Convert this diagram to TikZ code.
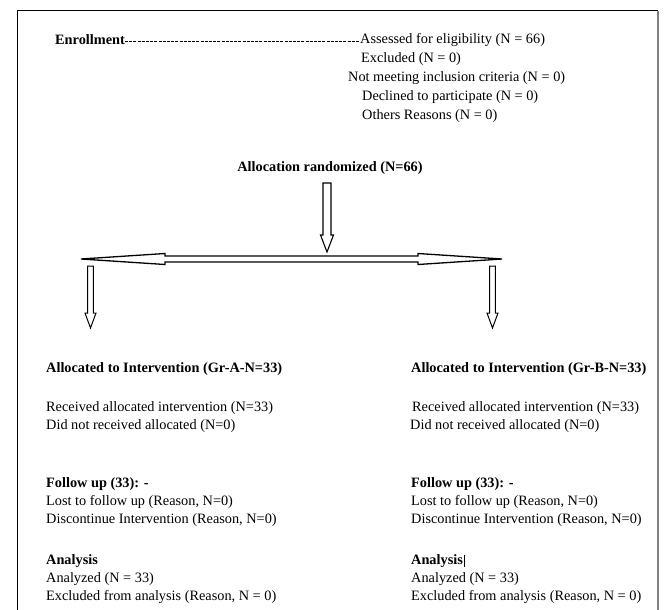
\documentclass[tikz,border=0pt]{standalone}
\usepackage{fontspec}
\setmainfont{Liberation Serif}
\usetikzlibrary{calc}
\begin{document}
\begin{tikzpicture}[x=1pt,y=-1pt,
  txt/.style={anchor=west,inner sep=0pt,font=\fontsize{14.3}{16}\selectfont},
  btxt/.style={txt,font=\fontsize{14.3}{16}\selectfont\bfseries},
  blockarrow/.style={draw=black,fill=white,line width=1.1pt,line join=miter}]
\useasboundingbox (0,0) rectangle (664,610);
% frame
\draw[line width=1pt] (17,610) -- (17,11) -- (658,11);
\draw[line width=2pt,gray] (658,11) -- (658,610);

% enrollment block
\node[btxt] (enr) at (55,40) {Enrollment};
\node[txt] (ass) at (360,40) {Assessed for eligibility (N = 66)};
\draw[dash pattern=on 3pt off 1.2pt,line width=0.5pt] (enr.east) ++(0,1.5) coordinate (d1) -- (d1 -| ass.west);
\node[txt] (exc) at (361,59) {Excluded (N = 0)};
\node[txt] (nm)  at (348,78) {Not meeting inclusion criteria (N = 0)};
\node[txt] (dec) at (362,97) {Declined to participate (N = 0)};
\node[txt] (oth) at (362,116) {Others Reasons (N = 0)};

% allocation
\node[btxt,anchor=center] (alloc) at (330,168) {Allocation randomized (N=66)};

% central down arrow
\coordinate (ctop) at (327,183);
\coordinate (ctip) at (327,252);
\draw[blockarrow] ($(ctop)+(-4,0)$) -- ($(ctip)+(-4,-17)$) -- ($(ctip)+(-6.5,-17)$) -- (ctip)
   -- ($(ctip)+(6.5,-17)$) -- ($(ctip)+(4,-17)$) -- ($(ctop)+(4,0)$) -- cycle;

% horizontal double arrow
\coordinate (hl) at (81,259);
\coordinate (hr) at (502,259);
\draw[blockarrow,line width=1.3pt] (hl) -- ($(hl)+(84,-5.5)$) -- ($(hl)+(84,-3)$) -- ($(hr)+(-84,-3)$) -- ($(hr)+(-84,-5.5)$)
   -- (hr) -- ($(hr)+(-84,5.5)$) -- ($(hr)+(-84,3)$) -- ($(hl)+(84,3)$) -- ($(hl)+(84,5.5)$) -- cycle;

% side down arrows
\foreach \nm/\xx in {la/90.5, ra/492.5}{
  \coordinate (\nm top) at (\xx,266);
  \coordinate (\nm tip) at (\xx,328);
  \draw[blockarrow,line width=1pt] ($(\nm top)+(-2.8,0)$) -- ($(\nm tip)+(-2.8,-15)$) -- ($(\nm tip)+(-5.5,-15)$) -- (\nm tip)
     -- ($(\nm tip)+(5.5,-15)$) -- ($(\nm tip)+(2.8,-15)$) -- ($(\nm top)+(2.8,0)$) -- cycle;
}

% left column
\node[btxt] (aA) at (46,369) {Allocated to Intervention (Gr-A-N=33)};
\node[txt] (rA) at (46,408) {Received allocated intervention (N=33)};
\node[txt] (dA) at (46,426) {Did not received allocated (N=0)};
\node[btxt] (fA) at (46,484) {Follow up (33): -};
\node[txt] (lA) at (46,502) {Lost to follow up (Reason, N=0)};
\node[txt] (cA) at (46,520) {Discontinue Intervention (Reason, N=0)};
\node[btxt] (nA) at (46,561) {Analysis};
\node[txt] (zA) at (46,579) {Analyzed (N = 33)};
\node[txt] (xA) at (46,597) {Excluded from analysis (Reason, N = 0)};

% right column
\node[btxt] (aB) at (411,369) {Allocated to Intervention (Gr-B-N=33)};
\node[txt] (rB) at (412,408) {Received allocated intervention (N=33)};
\node[txt] (dB) at (410,426) {Did not received allocated (N=0)};
\node[btxt] (fB) at (411,484) {Follow up (33): -};
\node[txt] (lB) at (411,502) {Lost to follow up (Reason, N=0)};
\node[txt] (cB) at (411,520) {Discontinue Intervention (Reason, N=0)};
\node[btxt] (nB) at (411,561) {Analysis};
\node[txt] (zB) at (411,579) {Analyzed (N = 33)};
\node[txt] (xB) at (411,597) {Excluded from analysis (Reason, N = 0)};
\draw[line width=0.8pt] ($(nB.east)+(1,-6)$) -- ($(nB.east)+(1,6)$);
\end{tikzpicture}
\end{document}
